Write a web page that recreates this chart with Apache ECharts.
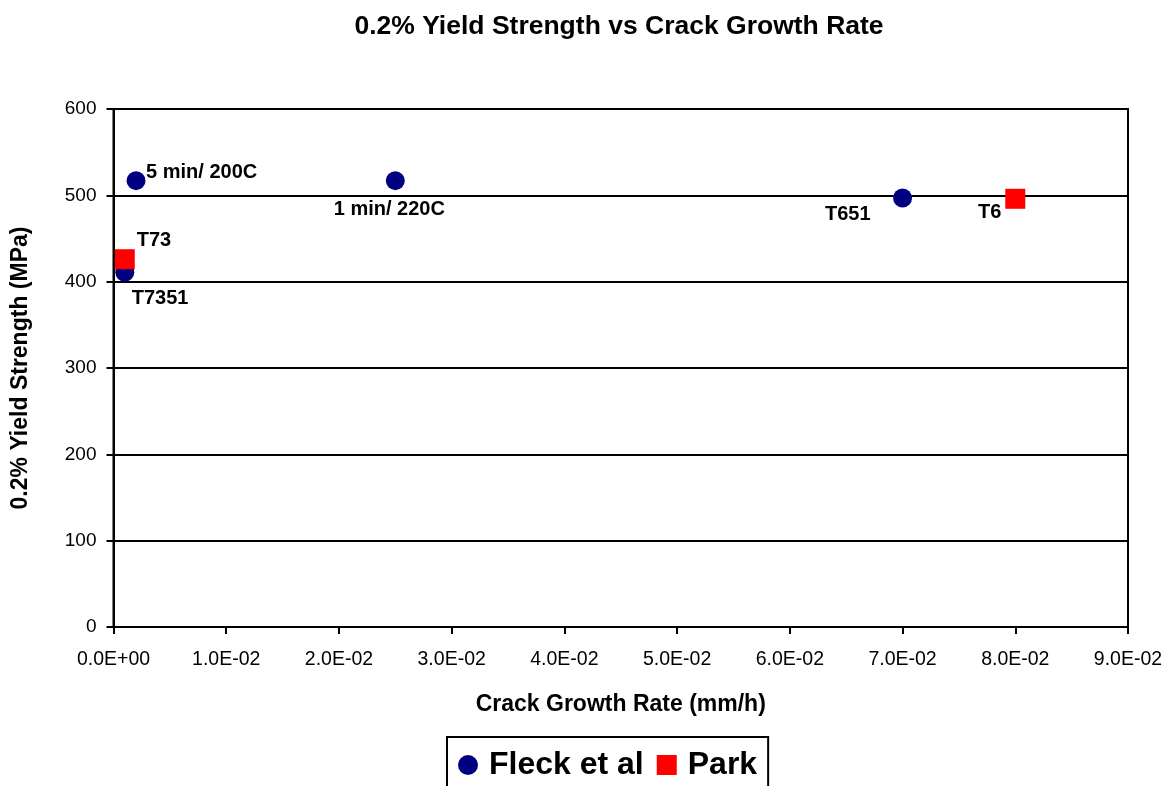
<!DOCTYPE html>
<html>
<head>
<meta charset="utf-8">
<title>0.2% Yield Strength vs Crack Growth Rate</title>
<script src="https://cdn.jsdelivr.net/npm/echarts@6/dist/echarts.min.js"></script>
<style>
  html, body { margin: 0; padding: 0; background: #fff; }
  #chart { width: 1175px; height: 786px; }
</style>
</head>
<body>
<div id="chart"></div>
<script>
// data
var fleckRate = [0.001, 0.002, 0.025, 0.07];
var fleckYield = [411, 517, 517, 497];
var fleckNames = ['T7351', '5 min/ 200C', '1 min/ 220C', 'T651'];

var parkRate = [0.001, 0.08];
var parkYield = [426, 496];
var parkNames = ['T73', 'T6'];

// where each point label sits (relative to the marker)
var labelPlace = {
	'T7351': { position: 'right', offset: [-7.5, 26] },
	'5 min/ 200C': { position: 'right', offset: [-4.5, -8.5] },
	'1 min/ 220C': { position: 'bottom', offset: [-6, 4] },
	'T651': { position: 'left', offset: [-17.5, 17] },
	'T73': { position: 'right', offset: [-3, -19] },
	'T6': { position: 'left', offset: [1, 14] }
};

var font = 'Liberation Sans, Arial, sans-serif';

function buildData(xs, ys, names) {
	var out = [];
	for (var i = 0; i < xs.length; i++) {
		var p = labelPlace[names[i]];
		out.push({
			name: names[i],
			value: [xs[i], ys[i]],
			label: { position: p.position, offset: p.offset }
		});
	}
	return out;
}

// Excel style 1.0E-02
function sciLabel(v) {
	var s = Number(v).toExponential(1).toUpperCase();
	var parts = s.split('E');
	var exp = parseInt(parts[1], 10);
	var sign = exp < 0 ? '-' : '+';
	var e = Math.abs(exp);
	return parts[0] + 'E' + sign + (e < 10 ? '0' + e : e);
}

var pointLabel = {
	show: true,
	formatter: '{b}',
	color: '#000',
	fontFamily: font,
	fontWeight: 'bold',
	fontSize: 20,
	distance: 5
};

var myChart = echarts.init(document.getElementById('chart'));

var option = {
	animation: false,
	backgroundColor: '#fff',
	title: {
		text: '0.2% Yield Strength vs Crack Growth Rate',
		left: 614,
		textAlign: 'center',
		top: 8,
		textStyle: {
			fontFamily: font,
			fontWeight: 'bold',
			fontSize: 26.5,
			color: '#000'
		}
	},
	grid: {
		left: 113.5,
		right: 47,
		top: 109,
		bottom: 159,
		show: true,
		borderColor: '#000',
		borderWidth: 2
	},
	legend: {
		data: ['Fleck et al', 'Park'],
		left: 447,
		top: 737,
		orient: 'horizontal',
		padding: [12, 11, 20, 11],
		borderColor: '#000',
		borderWidth: 2,
		itemWidth: 20,
		itemHeight: 20,
		itemGap: 13,
		textStyle: {
			fontFamily: font,
			fontWeight: 'bold',
			fontSize: 32,
			color: '#000',
			padding: [0, 0, 0, 6]
		}
	},
	xAxis: {
		type: 'value',
		min: 0,
		max: 0.09,
		interval: 0.01,
		name: 'Crack Growth Rate (mm/h)',
		nameLocation: 'middle',
		nameGap: 66,
		nameTextStyle: {
			fontFamily: font,
			fontWeight: 'bold',
			fontSize: 23,
			color: '#000'
		},
		axisLine: { show: true, lineStyle: { color: '#000', width: 2 } },
		axisTick: { show: true, length: 7, lineStyle: { color: '#000', width: 2 } },
		axisLabel: {
			formatter: sciLabel,
			fontFamily: font,
			fontSize: 19.5,
			color: '#000',
			margin: 23
		},
		splitLine: { show: false }
	},
	yAxis: {
		type: 'value',
		min: 0,
		max: 600,
		interval: 100,
		name: '0.2% Yield Strength (MPa)',
		nameLocation: 'middle',
		nameGap: 81,
		nameTextStyle: {
			fontFamily: font,
			fontWeight: 'bold',
			fontSize: 23,
			color: '#000'
		},
		axisLine: { show: true, lineStyle: { color: '#000', width: 2 } },
		axisTick: { show: true, length: 7, lineStyle: { color: '#000', width: 2 } },
		axisLabel: {
			fontFamily: font,
			fontSize: 19,
			color: '#000',
			margin: 17
		},
		splitLine: { show: true, lineStyle: { color: '#000', width: 2 } }
	},
	series: [{
		name: 'Fleck et al',
		type: 'scatter',
		symbol: 'circle',
		symbolSize: 19,
		itemStyle: { color: '#000080', opacity: 1 },
		label: pointLabel,
		data: buildData(fleckRate, fleckYield, fleckNames),
		z: 3
	}, {
		name: 'Park',
		type: 'scatter',
		symbol: 'rect',
		symbolSize: 20,
		itemStyle: { color: '#ff0000', opacity: 1 },
		label: pointLabel,
		data: buildData(parkRate, parkYield, parkNames),
		z: 4
	}]
};

myChart.setOption(option);
</script>
</body>
</html>
